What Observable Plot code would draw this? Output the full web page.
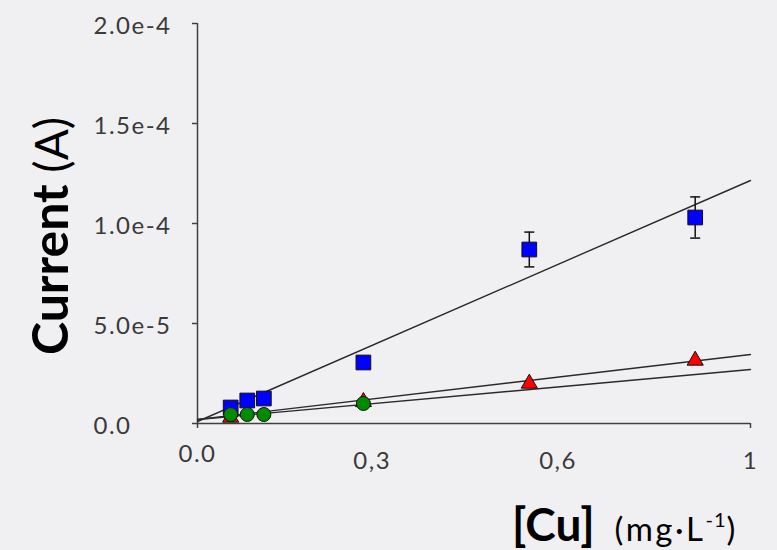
<!DOCTYPE html>
<html><head><meta charset="utf-8">
<script src="https://cdn.jsdelivr.net/npm/d3@7"></script>
<script src="https://cdn.jsdelivr.net/npm/@observablehq/plot@0.6"></script>
<style>
html,body{margin:0;padding:0;background:#f0f0f2;}
#chart{width:777px;height:550px;}
</style></head><body><div id="chart"></div>
<script>
// ---- data ----
const concentrations = [0.06, 0.09, 0.12, 0.3, 0.6, 0.9];
const blueCurrent = [8e-6, 1.15e-5, 1.25e-5, 3.05e-5, 8.7e-5, 1.03e-4];
const blueError = [1e-6, 1e-6, 1e-6, 1.5e-6, 8.7e-6, 1.03e-5];
const redConc = [0.06, 0.3, 0.6, 0.9];
const redCurrent = [3e-6, 1.08e-5, 2.0e-5, 3.15e-5];
const greenConc = [0.06, 0.09, 0.12, 0.3];
const greenCurrent = [4.5e-6, 4.5e-6, 4.5e-6, 1.0e-5];
const fitSeries = ["blue", "red", "green"];
const fitIntercept = [1e-6, 2e-6, 2e-6];
const fitSlope = [1.205e-4, 3.25e-5, 2.5e-5];
const yTicks = [0, 5e-5, 1e-4, 1.5e-4, 2e-4];
const yTickLabels = ["0.0", "5.0e-5", "1.0e-4", "1.5e-4", "2.0e-4"];
const xTickAt = [0, 0.316, 0.652, 1];
const xTickLabels = ["0.0", "0,3", "0,6", "1"];

// ---- tables built from the arrays ----
const blueData = concentrations.map((c, i) => ({c, v: blueCurrent[i], e: blueError[i]}));
const redData = redConc.map((c, i) => ({c, v: redCurrent[i]}));
const greenData = greenConc.map((c, i) => ({c, v: greenCurrent[i]}));
const fitLines = fitSeries.flatMap((s, i) => [0, 1].map(x => ({s, x, v: fitIntercept[i] + fitSlope[i] * x})));
const yTickData = yTicks.map((v, i) => ({v, label: yTickLabels[i]}));
const xTickData = xTickAt.map((x, i) => ({x, label: xTickLabels[i]}));

const cap = {draw(ctx, size) { const r = Math.sqrt(size / Math.PI); ctx.moveTo(-r, 0); ctx.lineTo(r, 0); }};
const axisColor = "#404040";
const textColor = "#3a3a3a";

const svg = Plot.plot({
  width: 777, height: 550,
  marginLeft: 197, marginRight: 27, marginTop: 23, marginBottom: 127,
  style: {background: "#f0f0f2", fontFamily: "Lato, sans-serif", color: textColor, overflow: "visible"},
  x: {domain: [0, 1]},
  y: {domain: [0, 2e-4]},
  marks: [
    Plot.axisY({ticks: yTicks, tickSize: 5, tickFormat: () => "", stroke: axisColor, strokeWidth: 1.5, label: null}),
    Plot.axisX({ticks: [0, 1], tickSize: 5, tickFormat: () => "", stroke: axisColor, strokeWidth: 1.5, label: null}),
    Plot.ruleX([0], {stroke: axisColor, strokeWidth: 1.5}),
    Plot.ruleY([0], {stroke: axisColor, strokeWidth: 1.5}),
    Plot.text(yTickData, {y: "v", text: "label", frameAnchor: "left", textAnchor: "start", dx: -104, dy: 3, fontSize: 24, fill: textColor}),
    Plot.text(xTickData.slice(0, 1), {x: "x", text: "label", frameAnchor: "bottom", dy: 38, fontSize: 24, fill: textColor}),
    Plot.text(xTickData.slice(1), {x: "x", text: "label", frameAnchor: "bottom", dy: 45, fontSize: 24, fill: textColor}),
    Plot.line(fitLines, {x: "x", y: "v", z: "s", stroke: "#2a2a2a", strokeWidth: 1.4}),
    Plot.ruleX(blueData, {x: "c", y1: d => d.v - d.e, y2: d => d.v + d.e, stroke: "#111", strokeWidth: 1.5}),
    Plot.dot(blueData, {x: "c", y: d => d.v + d.e, symbol: cap, r: 5, stroke: "#111", strokeWidth: 1.5}),
    Plot.dot(blueData, {x: "c", y: d => d.v - d.e, symbol: cap, r: 5, stroke: "#111", strokeWidth: 1.5}),
    Plot.dot(blueData, {x: "c", y: "v", symbol: "square", r: 8.3, fill: "#0000ff", stroke: "#111", strokeWidth: 1}),
    Plot.dot(redData, {x: "c", y: "v", symbol: "triangle", r: 6, fill: "#ff0000", stroke: "#111", strokeWidth: 1}),
    Plot.dot(greenData, {x: "c", y: "v", symbol: "circle", r: 7, fill: "#008a00", stroke: "#111", strokeWidth: 1})
  ]
});

// tick label letter spacing (wider, like the reference)
d3.select(svg).selectAll("text").style("letter-spacing", "1.5px");

const s = d3.select(svg);
const yTitle = s.append("text")
  .attr("transform", "translate(68,236) rotate(-90)")
  .attr("text-anchor", "middle")
  .attr("fill", "#000")
  .style("font-family", "Lato, sans-serif");
yTitle.append("tspan").attr("font-weight", "bold").attr("font-size", 50).text("Current");
yTitle.append("tspan").attr("font-size", 46).text(" (A)");

const xTitle = s.append("text")
  .attr("x", 512).attr("y", 541)
  .attr("text-anchor", "start")
  .attr("fill", "#000")
  .style("font-family", "Lato, sans-serif");
xTitle.append("tspan").attr("font-weight", "bold").attr("font-size", 46).text("[Cu]");
xTitle.append("tspan").attr("font-size", 33).attr("dx", 20).style("letter-spacing", "2.5px").text("(mg·L");
xTitle.append("tspan").attr("font-size", 20).attr("dy", -14).style("letter-spacing", "1px").text("-1");
xTitle.append("tspan").attr("font-size", 33).attr("dy", 14).text(")");

document.getElementById("chart").appendChild(svg);
</script>
</body></html>
